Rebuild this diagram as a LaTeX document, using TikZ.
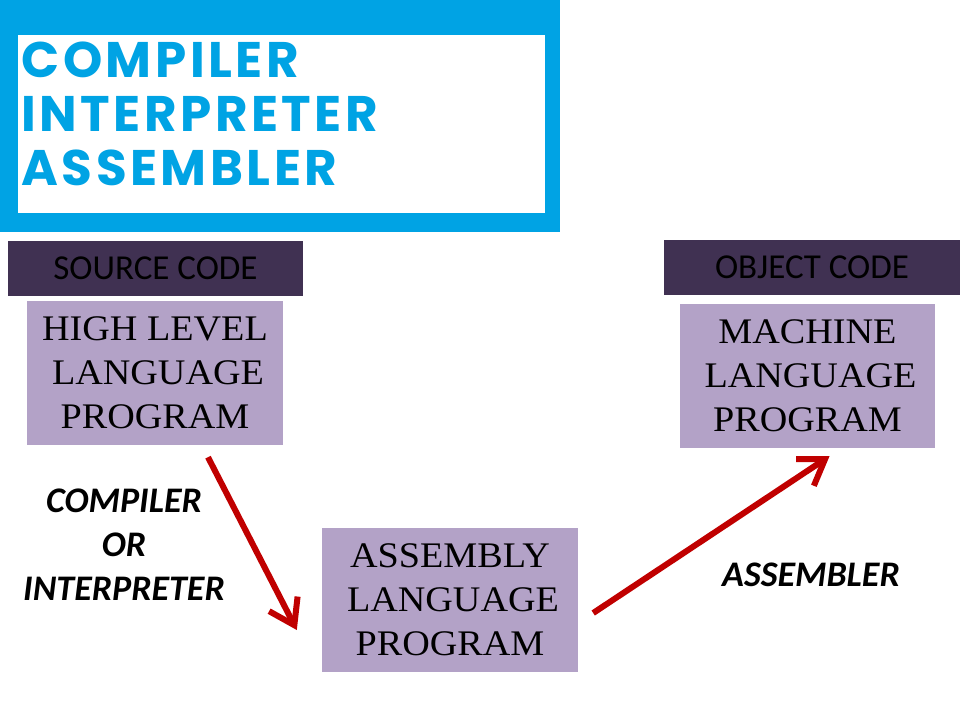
\documentclass[tikz,border=0pt]{standalone}
\usepackage{fontspec}
\setmainfont{Liberation Serif}[FakeStretch=1.06]
\newfontfamily\calfont{Carlito}
\newfontfamily\titlefont{Poppins}[LetterSpace=7]
\usepackage{tikz}
\usetikzlibrary{arrows.meta,positioning,calc}
\definecolor{skyblue}{RGB}{0,163,228}
\definecolor{darkplum}{RGB}{64,49,82}
\definecolor{lilac}{RGB}{179,162,199}
\definecolor{arrowred}{RGB}{192,0,0}

\begin{document}
\begin{tikzpicture}[x=1pt,y=-1pt,%
          frame/.style={rectangle,
              inner sep=0pt,
              fill=skyblue,
              minimum width=560pt,
              minimum height=232pt},
          paper/.style={rectangle,
              inner sep=0pt,
              fill=white,
              minimum width=527pt,
              minimum height=178pt},
          header/.style={rectangle,
              inner sep=0pt,
              fill=darkplum,
              text=black,
              font=\calfont\fontsize{35}{40}\selectfont,
              minimum width=295pt,
              minimum height=55pt},
          prog/.style={rectangle,
              inner sep=0pt,
              fill=lilac,
              text=black,
              align=center,
              font=\fontsize{36}{44}\selectfont,
              minimum width=256pt,
              minimum height=144pt},
          tool/.style={align=center,
              font=\calfont\bfseries\itshape\fontsize{36}{44}\selectfont},
          flow/.style={draw=arrowred,
              line width=6pt,
              -{Straight Barb[length=24pt,width=32pt]}},
        ]
        \useasboundingbox (0,0) rectangle (960,720);

        \node[frame] (frame) at(280,116) {};
        \node[paper] (paper) at(281.5,124) {};
        \node[anchor=west,align=left,text=skyblue,
              font=\titlefont\bfseries\fontsize{50}{54}\selectfont] (title) at(18,114)
              {COMPILER\\INTERPRETER\\ASSEMBLER};

        \node[header] (src) at(155.5,268.5) {SOURCE CODE};
        \node[prog] (hll) at(155,373) {HIGH LEVEL\\ \,LANGUAGE\\PROGRAM};

        \node[header,minimum width=296pt] (obj) at(812,267.5) {OBJECT CODE};
        \node[prog,minimum width=255pt] (mlp) at(807.5,376) {MACHINE\\ \,LANGUAGE\\PROGRAM};

        \node[prog] (alp) at(450,600) {ASSEMBLY\\ \,LANGUAGE\\PROGRAM};

        \node[tool] (comp) at(124,545) {COMPILER\\OR\\INTERPRETER};
        \node[tool] (asm) at(811,575) {ASSEMBLER};

        \coordinate (hllout) at ([shift={(53,12)}]hll.south);
        \coordinate (alpin) at ([shift={(-25,30)}]alp.west);
        \coordinate (alpout) at ([shift={(15,13)}]alp.east);
        \coordinate (mlpin) at ([shift={(22,8)}]mlp.south);

        \draw[flow] (hllout) -- (alpin);
        \draw[flow] (alpout) -- (mlpin);
      \end{tikzpicture}
\end{document}
